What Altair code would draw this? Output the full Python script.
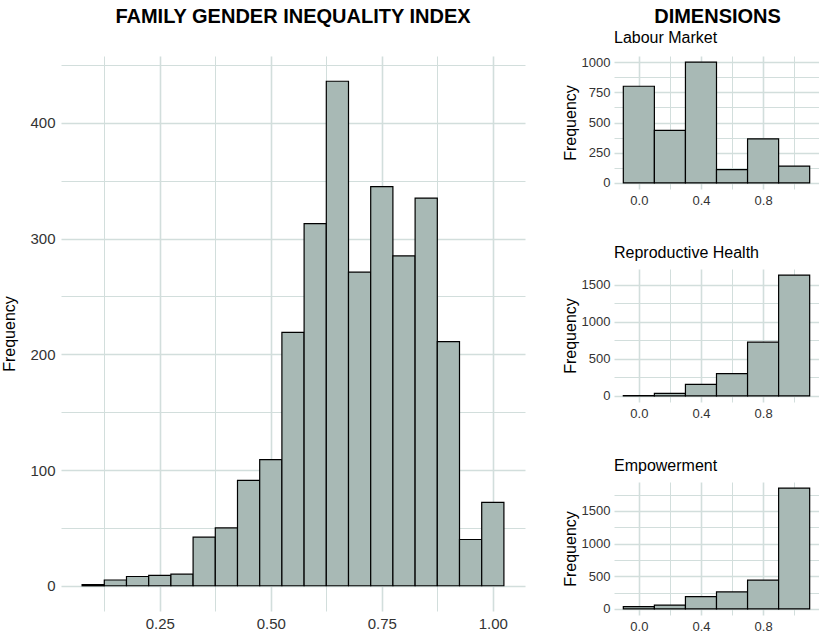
import altair as alt
import pandas as pd

# ---- data ----
main_centers = [0.10, 0.15, 0.20, 0.25, 0.30, 0.35, 0.40, 0.45, 0.50, 0.55,
                0.60, 0.65, 0.70, 0.75, 0.80, 0.85, 0.90, 0.95, 1.00]
main_counts = [1, 5, 8, 9, 10, 42, 50, 91, 109, 219,
               313, 436, 271, 345, 285, 335, 211, 40, 72]
main_binwidth = 0.05

dim_centers = [0.0, 0.2, 0.4, 0.6, 0.8, 1.0]
dim_binwidth = 0.2
labour_counts = [800, 435, 1000, 110, 365, 140]
repro_counts = [5, 35, 155, 300, 725, 1630]
empower_counts = [35, 60, 190, 260, 440, 1850]

FILL = "#a8b9b5"
GRID = "#d2dedc"
LABEL = "#333333"
FONT = "Liberation Sans"


def frame(centers, counts, w):
    return pd.DataFrame({
        "start": [c - w / 2 for c in centers],
        "end": [c + w / 2 for c in centers],
        "count": counts,
    })


def grid_axis(values, minor, fmt, fontsize, label_pad, title=None, title_pad=0, title_size=16):
    minor_test = "indexof(%s, datum.value) >= 0" % str(minor)
    kw = dict(
        values=values,
        format=fmt,
        labelExpr="%s ? '' : datum.label" % minor_test,
        grid=True,
        gridColor=GRID,
        gridWidth={"condition": {"test": minor_test, "value": 1.0}, "value": 1.6},
        ticks=False,
        domain=False,
        labelFont=FONT,
        labelFontSize=fontsize,
        labelColor=LABEL,
        labelPadding=label_pad,
        labelFlush=False,
        labelOverlap=False,
    )
    if title:
        kw.update(title=title, titleFont=FONT, titleFontSize=title_size,
                  titleFontWeight="normal", titleColor="black", titlePadding=title_pad)
    else:
        kw.update(title=None)
    return alt.Axis(**kw)


main_df = frame(main_centers, main_counts, main_binwidth)

main = alt.Chart(main_df).mark_bar(
    fill=FILL, stroke="black", strokeWidth=1.2, opacity=1
).encode(
    x=alt.X("start:Q",
            scale=alt.Scale(domain=[0.0275, 1.0725], nice=False, zero=False),
            axis=grid_axis([0.125, 0.25, 0.375, 0.5, 0.625, 0.75, 0.875, 1.0],
                           [0.125, 0.375, 0.625, 0.875], ".2f", 15, 5)),
    x2="end:Q",
    y=alt.Y("count:Q",
            scale=alt.Scale(domain=[-21.8, 457.8], nice=False, zero=False),
            axis=grid_axis([0, 50, 100, 150, 200, 250, 300, 350, 400, 450],
                           [50, 150, 250, 350, 450], "d", 15, 6,
                           title="Frequency", title_pad=12)),
    y2=alt.Y2(datum=0),
).properties(
    width=464, height=555,
    title=alt.TitleParams("FAMILY GENDER INEQUALITY INDEX", font=FONT, fontSize=20,
                          fontWeight="bold", color="black", anchor="middle",
                          frame="group", offset=29),
)


def small(counts, name, ymax, yvals, yminor, title_offset):
    df = frame(dim_centers, counts, dim_binwidth)
    pad = ymax * 0.05
    return alt.Chart(df).mark_bar(
        fill=FILL, stroke="black", strokeWidth=1.2, opacity=1
    ).encode(
        x=alt.X("start:Q",
                scale=alt.Scale(domain=[-0.16, 1.16], nice=False, zero=False),
                axis=grid_axis([0.0, 0.2, 0.4, 0.6, 0.8, 1.0], [0.2, 0.6, 1.0],
                               ".1f", 13, 5)),
        x2="end:Q",
        y=alt.Y("count:Q",
                scale=alt.Scale(domain=[-pad, ymax + pad], nice=False, zero=False),
                axis=grid_axis(yvals, yminor, "d", 13, 4,
                               title="Frequency", title_pad=3)),
        y2=alt.Y2(datum=0),
    ).properties(
        width=205, height=133,
        title=alt.TitleParams(name, font=FONT, fontSize=16, fontWeight="normal",
                              color="black", anchor="start", frame="group",
                              offset=title_offset),
    )


p1 = small(labour_counts, "Labour Market", 1000,
           [0, 125, 250, 375, 500, 625, 750, 875, 1000], [125, 375, 625, 875], 10)
p2 = small(repro_counts, "Reproductive Health", 1630,
           [0, 250, 500, 750, 1000, 1250, 1500], [250, 750, 1250], 8)
p3 = small(empower_counts, "Empowerment", 1850,
           [0, 250, 500, 750, 1000, 1250, 1500, 1750], [250, 750, 1250, 1750], 8)

right = alt.vconcat(p1, p2, p3, spacing=38).properties(
    title=alt.TitleParams("DIMENSIONS", font=FONT, fontSize=20, fontWeight="bold",
                          color="black", anchor="middle", offset=4, dx=27, dy=1),
)

chart = alt.hconcat(main, right, spacing=37).properties(
    padding={"left": 1, "top": 7, "right": 0, "bottom": 0},
    background="white",
).configure_view(stroke=None)

chart.save("out.html", embed_options={"renderer": "svg", "actions": False})
